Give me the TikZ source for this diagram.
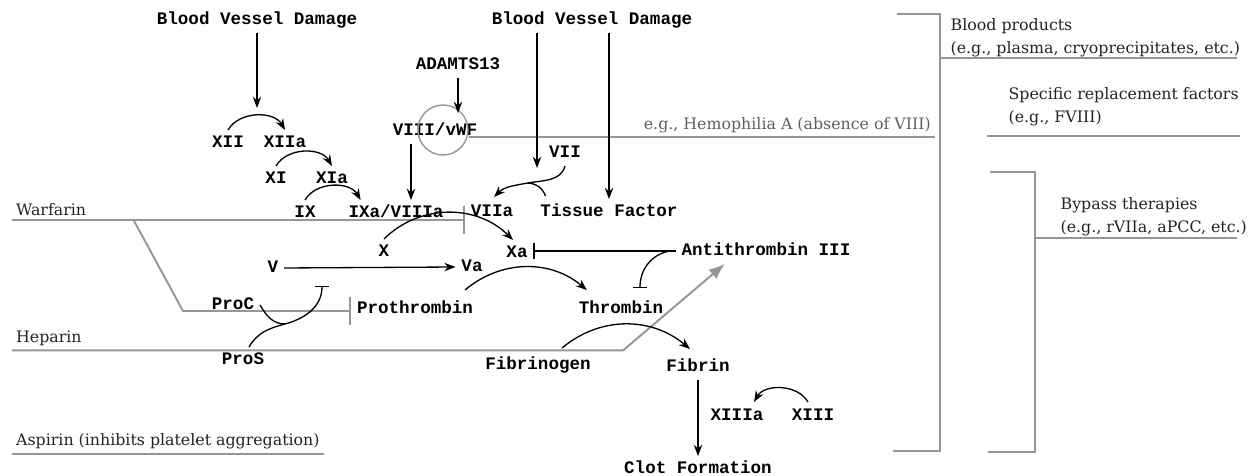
\documentclass[tikz,border=0pt]{standalone}
\usepackage{fontspec}
\setmonofont{Liberation Mono}
\newfontfamily\drugfont{DejaVu Serif}
\usetikzlibrary{arrows.meta, positioning, calc}
\definecolor{lgray}{RGB}{150,150,150}
\definecolor{dtext}{RGB}{35,35,35}
\definecolor{htext}{RGB}{95,95,95}

\begin{document}
\begin{tikzpicture}[x=0.02cm, y=0.02cm, >=Stealth, line width=0.75pt,
  fac/.style={font=\fontsize{10}{12}\selectfont\ttfamily\bfseries, inner sep=3pt, text height=6.5pt, text depth=1.5pt},
  drug/.style={font=\fontsize{9}{13}\selectfont\drugfont, text=dtext, inner sep=2pt, anchor=base west},
  note/.style={font=\fontsize{9}{13}\selectfont\drugfont, text=dtext, inner sep=0pt, anchor=north west, align=left},
  gline/.style={draw=lgray, line width=1.1pt}]

\useasboundingbox (0,0) rectangle (1255,476);

% Triggers
\node[fac] (bvd1) at (257,456) {Blood Vessel Damage};
\node[fac] (bvd2) at (592,456) {Blood Vessel Damage};
\node[fac] (adamts) at (458,411) {ADAMTS13};

% Intrinsic pathway
\node[fac] (xii) at (228,333) {XII};
\node[fac] (xiia) at (285,333) {XIIa};
\node[fac] (xi) at (276,297) {XI};
\node[fac] (xia) at (332,297) {XIa};
\node[fac] (ix) at (305,263) {IX};
\node[fac] (ixa) at (396,263) {IXa/VIIIa};
\node[fac] (vwf) at (435,345) {VIII/vWF};
\node[circle, draw=lgray, line width=0.8pt, minimum size=1cm, inner sep=0pt] (vwfc) at (443,346) {};

% Extrinsic pathway
\node[fac] (vii) at (565,323) {VII};
\node[fac] (viia) at (492,264) {VIIa};
\node[fac] (tf) at (609,264) {Tissue Factor};

% Common pathway
\node[fac] (fx) at (384,224) {X};
\node[fac] (fxa) at (517,223) {Xa};
\node[fac] (fv) at (273,208) {V};
\node[fac] (fva) at (472,209) {Va};
\node[fac] (at3) at (766,225) {Antithrombin III};
\node[fac] (proc) at (233,171) {ProC};
\node[fac] (pros) at (243,116) {ProS};
\node[fac] (proth) at (415,167) {Prothrombin};
\node[fac] (thromb) at (621,167) {Thrombin};
\node[fac] (fbg) at (538,111) {Fibrinogen};
\node[fac] (fbn) at (698,109) {Fibrin};
\node[fac] (xiiia) at (737,60) {XIIIa};
\node[fac] (xiii) at (813,60) {XIII};
\node[fac] (clot) at (698,7) {Clot Formation};

% Drugs
\node[drug] (warf) at (12,260) {Warfarin};
\node[drug] (hep) at (12,133) {Heparin};
\node[drug] (asp) at (12,30) {Aspirin (inhibits platelet aggregation)};
\node[drug, text=htext, anchor=south east] (hemo) at (935,339) {e.g., Hemophilia A (absence of VIII)};

% Treatments
\node[note] (bprod) at (950,458) {Blood products\\(e.g., plasma, cryoprecipitates, etc.)};
\node[note] (spec) at (1008,389) {Specific replacement factors\\(e.g., FVIII)};
\node[note] (bypass) at (1060,279) {Bypass therapies\\(e.g., rVIIa, aPCC, etc.)};

% Helper points
\coordinate (xiitop) at (257,368);
\coordinate (vwfin) at (458,363);
\coordinate (viitop) at (537,308);
\coordinate (tfjoin) at (528,293);
\coordinate (wsplit) at (133,257);
\coordinate (wbend) at (183,165);
\coordinate (hbend) at (623,126);
\coordinate (pcjoin) at (285,152);
\coordinate (vinh) at (322,190);
\coordinate (v8) at ($(vwf.south)+(-24,0)$);

% Drug lines (gray)
\draw[gline, -{Bar[width=16pt]}] (warf.south west) -- (warf.south west -| viia.west);
\draw[gline, -{Bar[width=16pt]}] (wsplit) -- (wbend) -- (wbend -| proth.west);
\draw[gline, -{Latex[length=9pt, width=7pt]}] (hep.south west) -- (hep.south west -| hbend) -- ($(at3.south west)+(49,0)$);
\draw[gline] (asp.south west) -- (asp.south east);
\draw[gline] (vwfc.east |- hemo.south) -- (hemo.south east);

% Brackets
\draw[gline] (897,462) -- (940,462) -- (940,25) -- (893,25);
\draw[gline] (990,304) -- (1035,304) -- (1035,24) -- (988,24);
\draw[gline] (940,418) -- (1237,418);
\draw[gline] (987,340) -- (1240,340);
\draw[gline] (1035,238) -- (1237,238);

% Activation
\draw[->] (bvd1.south) -- (xiitop);
\draw[->] (adamts.south) -- (vwfin);
\draw[->] (bvd2.south -| viitop) -- (viitop);
\draw[->] (bvd2.south -| tf.north) -- (tf.north);
\draw[->] (v8) -- (v8 |- ixa.north);

\draw[->] (xii.north) to[out=60, in=120] (xiia.north);
\draw[->] (xi.north) to[out=60, in=120] (xia.north);
\draw[->] (ix.north) to[out=60, in=120] ($(ixa.north west)+(18,0)$);
\draw[->] (fx.north) to[out=45, in=135] ($(fxa.north)+(-4,0)$);
\draw[->] (fv.east) -- (fva.west);
\draw[->] ($(proth.north east)+(-14,6)$) to[out=40, in=140] ($(thromb.north west)+(14,6)$);
\draw[->] ($(fbg.north)+(24,4)$) to[out=40, in=140] ($(fbn.north)+(-8,5)$);
\draw[->] ($(xiii.north)+(-5,1)$) to[out=120, in=60] ($(xiiia.north)+(17,1)$);
\draw[->] (fbn.south) -- (clot.north);

\draw[->] (vii.south) to[out=-105, in=10] (tfjoin) to[out=190, in=45] ($(viia.north)+(2,2)$);
\draw ($(tf.north west)+(11,3)$) to[out=110, in=-5] (tfjoin);

% Inhibition
\draw[-{Bar[width=9pt]}] (at3.west) -- (at3.west -| fxa.east);
\draw[-{Bar[width=8pt]}] ($(at3.west)+(-6,0)$) to[out=190, in=90] ($(thromb.north)+(19,8)$);
\draw (proc.east) to[out=-60, in=180] (pcjoin);
\draw[-{Bar[width=8pt]}] ($(pros.north)+(6,0)$) to[out=60, in=195] (pcjoin) to[out=15, in=-90] (vinh);

\end{tikzpicture}
\end{document}
